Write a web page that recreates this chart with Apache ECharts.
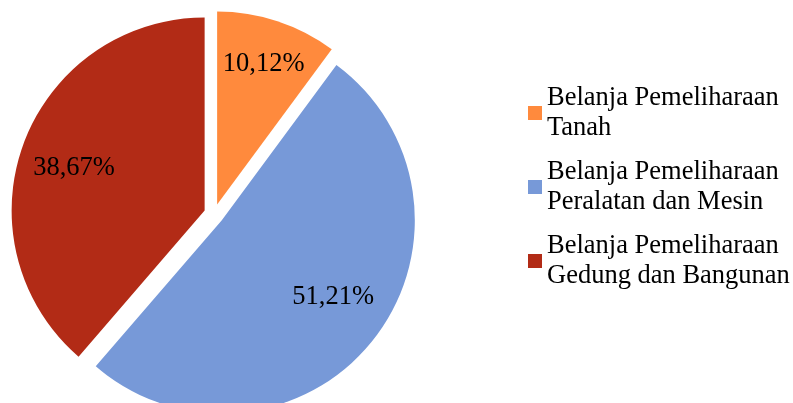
<!DOCTYPE html>
<html>
<head>
<meta charset="utf-8">
<script src="https://cdn.jsdelivr.net/npm/echarts@6/dist/echarts.min.js"></script>
<style>
  html, body { margin: 0; padding: 0; background: #fff; }
  #pie { width: 793px; height: 403px; }
</style>
</head>
<body>
<div id="pie"></div>
<script>
const categories = [
  "Belanja Pemeliharaan Tanah",
  "Belanja Pemeliharaan Peralatan dan Mesin",
  "Belanja Pemeliharaan Gedung dan Bangunan",
];
const legendLines = [
  "Belanja Pemeliharaan\nTanah",
  "Belanja Pemeliharaan\nPeralatan dan Mesin",
  "Belanja Pemeliharaan\nGedung dan Bangunan",
];
const values = [10.12, 51.21, 38.67];
const labels = ["10,12%", "51,21%", "38,67%"];
const colors = ["#FF8A3D", "#7799D8", "#B22B16"];

const font = "Liberation Serif";
// nudges (dx, dy) so the percentages sit where the original has them
const labelNudge = [[2, -5], [0, -12], [3, 7]];

const chart = echarts.init(document.getElementById("pie"));

// an empty line above/below the text pushes it down/up by half a line
const nudgedText = (i) => {
  const dy = labelNudge[i][1];
  if (dy < 0) return labels[i] + "\n ";
  if (dy > 0) return " \n" + labels[i];
  return labels[i];
};

const makeData = (forLabels) =>
  categories.map((name, i) => {
    const item = {
      name: name,
      value: values[i],
      selected: true,
      itemStyle: { color: forLabels ? "rgba(0,0,0,0)" : colors[i] },
    };
    if (forLabels) {
      const [dx, dy] = labelNudge[i];
      item.label = {
        lineHeight: Math.max(2 * Math.abs(dy), 1),
        padding: [0, 0, 0, 2 * dx],
      };
    }
    return item;
  });

const option = {
  animation: false,
  legend: {
    orient: "vertical",
    left: 523,
    top: 63,
    icon: "rect",
    itemWidth: 14,
    itemHeight: 14,
    itemGap: -16,
    selectedMode: false,
    data: categories,
    formatter: (name) => legendLines[categories.indexOf(name)],
    textStyle: {
      fontFamily: font,
      fontSize: 26.5,
      lineHeight: 30,
      color: "#000",
      padding: [30, 0, 0, 0],
    },
  },
  series: [
    {
      type: "pie",
      center: [214, 214],
      radius: 193,
      startAngle: 90,
      selectedMode: "multiple",
      selectedOffset: 10,
      silent: true,
      label: { show: false },
      labelLine: { show: false },
      data: makeData(false),
    },
    {
      // only carries the percentage labels
      type: "pie",
      center: [214, 214],
      radius: [86, 193],
      startAngle: 90,
      selectedMode: "multiple",
      selectedOffset: 10,
      silent: true,
      label: {
        show: true,
        position: "inside",
        formatter: (p) => nudgedText(p.dataIndex),
        fontFamily: font,
        fontSize: 26.5,
        color: "#000",
      },
      labelLine: { show: false },
      data: makeData(true),
    },
  ],
};

chart.setOption(option);
</script>
</body>
</html>
